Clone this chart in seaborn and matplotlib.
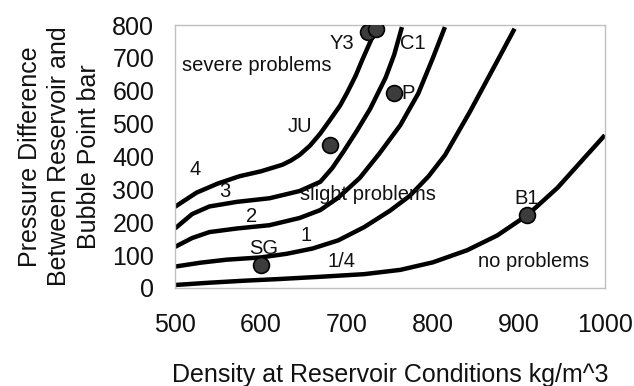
import matplotlib
matplotlib.use("Agg")
import matplotlib.pyplot as plt
import seaborn as sns
import pandas as pd

# curves (density kg/m^3, pressure difference bar)
curve_4_x = [500, 525, 550, 575, 600, 625, 635, 645, 657, 669, 680, 692, 700, 710, 718, 729]
curve_4_y = [247, 290, 318, 340, 355, 375, 388, 405, 433, 470, 510, 555, 593, 645, 695, 760]
curve_3_x = [500, 520, 540, 572, 610, 645, 669, 683, 696, 712, 727, 745, 755, 764]
curve_3_y = [181, 225, 248, 262, 273, 295, 323, 365, 415, 480, 545, 640, 710, 794]
curve_2_x = [500, 520, 540, 572, 610, 645, 669, 690, 715, 738, 762, 783, 800, 814]
curve_2_y = [125, 152, 170, 181, 191, 213, 237, 275, 335, 410, 495, 592, 700, 794]
curve_1_x = [500, 530, 560, 600, 630, 660, 690, 720, 750, 773, 795, 814, 843, 870, 895]
curve_1_y = [65, 77, 86, 93, 104, 120, 145, 185, 235, 280, 340, 404, 536, 667, 789]
curve_q_x = [500, 540, 580, 620, 669, 720, 762, 800, 840, 875, 910, 945, 979, 1000]
curve_q_y = [9, 16, 22, 27, 34, 42, 55, 78, 115, 160, 222, 305, 404, 465]

# fields
field_names = ["SG", "JU", "Y3", "C1", "P", "B1"]
field_density = [600, 680, 724, 734, 755, 910]
field_dp = [70, 435, 778, 789, 592, 222]

sns.set_style("white")
plt.rcParams["font.family"] = ["Liberation Sans", "DejaVu Sans"]

fig = plt.figure(figsize=(6.34, 3.86), dpi=100)
ax = fig.add_axes([0.276, 0.254, 0.678, 0.681])

curves = [(curve_4_x, curve_4_y), (curve_3_x, curve_3_y), (curve_2_x, curve_2_y),
          (curve_1_x, curve_1_y), (curve_q_x, curve_q_y)]
for cx, cy in curves:
    sns.lineplot(x=cx, y=cy, ax=ax, color="black", lw=3.2, sort=False,
                 solid_capstyle="butt", solid_joinstyle="round")

pts = pd.DataFrame({"d": field_density, "p": field_dp})
sns.scatterplot(data=pts, x="d", y="p", ax=ax, s=130, color="#3c3c3c",
                edgecolor="black", linewidth=1.2, zorder=5)

txt = dict(fontsize=14.5, color="#111111")
ax.text(508, 678, "severe problems", va="center", ha="left", **txt)
ax.text(645, 283, "slight problems", va="center", ha="left", **txt)
ax.text(852, 80, "no problems", va="center", ha="left", **txt)
ax.text(523, 359, "4", va="center", ha="center", **txt)
ax.text(558, 293, "3", va="center", ha="center", **txt)
ax.text(589, 217, "2", va="center", ha="center", **txt)
ax.text(653, 161, "1", va="center", ha="center", **txt)
ax.text(694, 80, "1/4", va="center", ha="center", **txt)
ax.text(603, 121, "SG", va="center", ha="center", **txt)
ax.text(645, 490, "JU", va="center", ha="center", **txt)
ax.text(694, 744, "Y3", va="center", ha="center", **txt)
ax.text(777, 744, "C1", va="center", ha="center", **txt)
ax.text(771, 592, "P", va="center", ha="center", **txt)
ax.text(909, 273, "B1", va="center", ha="center", **txt)

ax.set_xlim(500, 1000)
ax.set_ylim(0, 800)
ax.set_xticks(range(500, 1001, 100))
ax.set_yticks(range(0, 801, 100))
ax.tick_params(axis="both", direction="out", length=6, width=1, color="#b0b0b0",
               labelsize=18, labelcolor="#111111")
ax.tick_params(axis="x", pad=12)
ax.tick_params(axis="y", pad=9)
for s in ax.spines.values():
    s.set_color("#c0c0c0")
    s.set_linewidth(1)

ax.set_xlabel("Density at Reservoir Conditions kg/m^3", fontsize=18, color="#111111",
              labelpad=19)
ax.set_ylabel("Pressure Difference\nBetween Reservoir and\nBubble Point bar",
              fontsize=18, color="#111111", labelpad=8, linespacing=1.3)

fig.savefig("out.png", dpi=100)
